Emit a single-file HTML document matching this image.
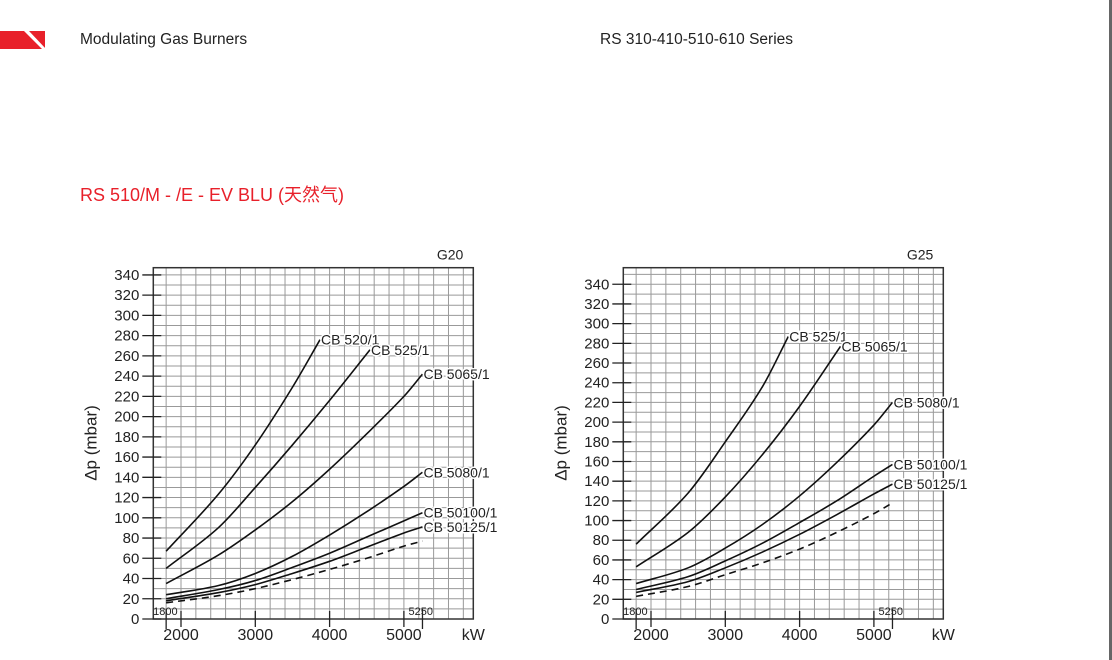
<!DOCTYPE html>
<html><head><meta charset="utf-8">
<style>
body{margin:0;width:1112px;height:660px;background:#fff;overflow:hidden;position:relative;font-family:"Liberation Sans","Noto Sans CJK SC",sans-serif}
.hdr{position:absolute;font-size:15.5px;color:#222;top:31px}
</style></head><body>
<svg style="position:absolute;left:0;top:31px" width="46" height="19"><rect width="45" height="18" fill="#e8202a"/><polygon points="24,0 29,0 46,18 42,18" fill="#fff"/></svg>
<div class="hdr" style="left:80px">Modulating Gas Burners</div>
<div class="hdr" style="left:600px">RS 310-410-510-610 Series</div>
<div style="position:absolute;left:80px;top:181px;font-size:18px;color:#e8202a">RS 510/M - /E - EV BLU (天然气)</div>
<div style="position:absolute;left:1109px;top:0;width:3px;height:660px;background:#666"></div>
<svg id="svg" width="1112" height="660" style="position:absolute;left:0;top:0"></svg>
<script>
const kwTicks=[2000,3000,4000,5000];
const mbarTicks=[0,20,40,60,80,100,120,140,160,180,200,220,240,260,280,300,320,340];
const xPts=[1800,2500,3000,3500,4000,4500,5000,5250];
const g20Names=["CB 520/1","CB 525/1","CB 5065/1","CB 5080/1","CB 50100/1","CB 50125/1",""];
const g20Kw=[[1800,2500,3000,3500,3871],[1800,2500,3000,3500,4000,4544],xPts,xPts,xPts,xPts,xPts];
const g20Vals=[[67,123,172,229,276],[50,90,130,172,216,266],[35,63,88,116,148,183,220,242],[24,33,45,62,83,106,131,145],[20,29,38,51,65,81,97,105],[18,26,34,45,57,71,85,91],[16,23,30,39,49,60,72,77]];
const g25Names=["CB 525/1","CB 5065/1","CB 5080/1","CB 50100/1","CB 50125/1",""];
const g25Kw=[[1800,2500,3000,3500,3848],[1800,2500,3000,3500,4000,4551],xPts,xPts,xPts,xPts];
const g25Vals=[[76,128,180,236,287],[53,88,124,167,216,277],[36,52,72,96,125,159,197,220],[30,43,59,77,98,120,145,157],[27,38,52,68,86,106,127,137],[23,33,45,57,71,88,107,118]];
const NS="http://www.w3.org/2000/svg";
const svg=document.getElementById('svg');
function el(t,a,txt){const e=document.createElementNS(NS,t);for(const k in a)e.setAttribute(k,a[k]);if(txt!==undefined)e.textContent=txt;svg.appendChild(e);return e;}
function chart(id,x0,py20,gas,names,kws,vals){
  const X=v=>x0+(v-2000)*0.0743, Y=v=>619-v*py20/20;
  const L=153.3+(x0-181), R=473.3+(x0-181), T=267.7, B=619;
  for(let k=1800;k<=5800;k+=200){const l=el('line',{x1:X(k),x2:X(k),y1:T,y2:B,stroke:'#999','stroke-width':1});}
  for(let v=10;Y(v)>T+1;v+=10){const l=el('line',{x1:L,x2:R,y1:Y(v),y2:Y(v),stroke:'#999','stroke-width':1});}
  const f=el('rect',{x:L,y:T,width:R-L,height:B-T,fill:'none',stroke:'#333','stroke-width':1.5});
  
  mbarTicks.forEach(v=>{
    const t=el('line',{x1:L-11,x2:L+8,y1:Y(v),y2:Y(v),stroke:'#222','stroke-width':1.3});
    
    const s=el('text',{x:L-14,y:Y(v)+5,'font-size':15,'text-anchor':'end',fill:'#222'},v);
    
  });
  kwTicks.forEach(v=>{
    const t=el('line',{x1:X(v),x2:X(v),y1:B-8,y2:B+8,stroke:'#222','stroke-width':1.3});
    
    const s=el('text',{x:X(v),y:B+21,'font-size':16,'text-anchor':'middle',fill:'#222'},v);
    
  });
  [1800,5250].forEach(v=>{
    const t=el('line',{x1:X(v),x2:X(v),y1:B-10,y2:B+10,stroke:'#222','stroke-width':1.3});
    
    const s=el('text',{x:X(v)+(v===1800?-13:-14),y:B-4,'font-size':11,fill:'#222'},v);
    
  });
  const u=el('text',{x:R,y:B+21,'font-size':16,'text-anchor':'middle',fill:'#222'},'kW');
  
  const g=el('text',{x:R-10,y:T-8,'font-size':14,'text-anchor':'end',fill:'#222'},gas);
  
  const ya=el('text',{x:0,y:0,'font-size':17,'text-anchor':'middle',fill:'#222',transform:`translate(${L-57},443) rotate(-90)`},'Δp (mbar)');
  
  vals.forEach((vs,i)=>{
    const pts=vs.map((v,j)=>[X(kws[i][j]),Y(v)]);
    const n=pts.length;
    const m=pts.map((p,j)=>{const a=pts[Math.max(0,j-1)],b=pts[Math.min(n-1,j+1)];return (b[1]-a[1])/(b[0]-a[0]);});
    let d='M'+pts[0][0]+','+pts[0][1];
    for(let j=1;j<n;j++){const p1=pts[j-1],p2=pts[j],dx=(p2[0]-p1[0])/3;
      d+=` C${p1[0]+dx},${p1[1]+m[j-1]*dx} ${p2[0]-dx},${p2[1]-m[j]*dx} ${p2[0]},${p2[1]}`;}
    const dash=names[i]==='';
    const p=el('path',{d:d,fill:'none',stroke:'#111','stroke-width':1.6,'stroke-dasharray':dash?'7,5':'none'});
    
    
    if(!dash){const last=pts[n-1];
      const t=el('text',{x:last[0]+1,y:last[1]+5,'font-size':14,fill:'#222',stroke:'#fff','stroke-width':3,'paint-order':'stroke'},names[i]);
      }
  });
}
chart('g20',181,20.24,'G20',g20Names,g20Kw,g20Vals);
chart('g25',651,19.69,'G25',g25Names,g25Kw,g25Vals);
</script>
</body></html>
